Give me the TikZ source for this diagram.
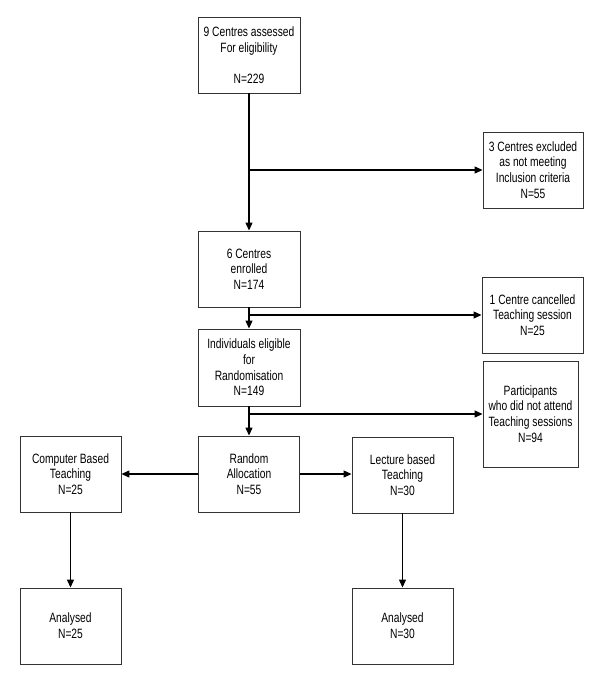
\documentclass[tikz,border=0pt]{standalone}
\usepackage{fontspec}
\setmainfont{Liberation Sans}[FakeStretch=0.76]
\usetikzlibrary{arrows.meta}
\begin{document}
\begin{tikzpicture}[x=1pt,y=-1pt,
  box/.style={draw=black!80, line width=0.9pt, minimum width=101pt, minimum height=76pt,
    inner sep=1pt, align=center, font=\fontsize{13.5}{15.7}\selectfont},
  arr/.style={line width=1.2pt, -{Triangle[length=8pt,width=7pt]}}]
\useasboundingbox (0,0) rectangle (600,683);
\fill[white] (0,0) rectangle (600,683);
\node[box, minimum width=102pt] (b1) at (249,55) {9 Centres assessed\\For eligibility\\[15.5pt]N=229};
\node[box, minimum width=100pt] (excl) at (533,170) {3 Centres excluded\\as not meeting\\Inclusion criteria\\N=55};
\node[box, minimum width=102pt] (b2) at (249,269) {6 Centres\\enrolled\\N=174};
\node[box] (canc) at (532.5,315) {1 Centre cancelled\\Teaching session\\N=25};
\node[box, minimum width=102pt, minimum height=77pt] (b3) at (249,367.5) {Individuals eligible\\for\\Randomisation\\N=149};
\node[box, minimum width=95pt, minimum height=106pt] (part) at (530.5,414) {Participants\\who did not attend\\Teaching sessions\\N=94};
\node[box] (rand) at (249,474) {Random\\Allocation\\N=55};
\node[box] (comp) at (70.5,474) {Computer Based\\Teaching\\N=25};
\node[box] (lect) at (402.5,475) {Lecture based\\Teaching\\N=30};
\node[box] (an1) at (70.5,626) {Analysed\\N=25};
\node[box] (an2) at (402.5,626) {Analysed\\N=30};
\draw[arr] (b1.south) -- (b2.north);
\draw[arr] (b1.south |- excl.west) -- (excl.west);
\draw[arr] (b2.south) -- (b3.north);
\draw[arr] (b2.south |- canc.west) -- (canc.west);
\draw[arr] (b3.south) -- (rand.north);
\draw[arr] (b3.south |- part.west) -- (part.west);
\draw[arr] (rand.west) -- (comp.east);
\draw[arr] (rand.east) -- (lect.west |- rand.east);
\draw[arr] (comp.south) -- (an1.north);
\draw[arr] (lect.south) -- (an2.north);
\end{tikzpicture}
\end{document}
